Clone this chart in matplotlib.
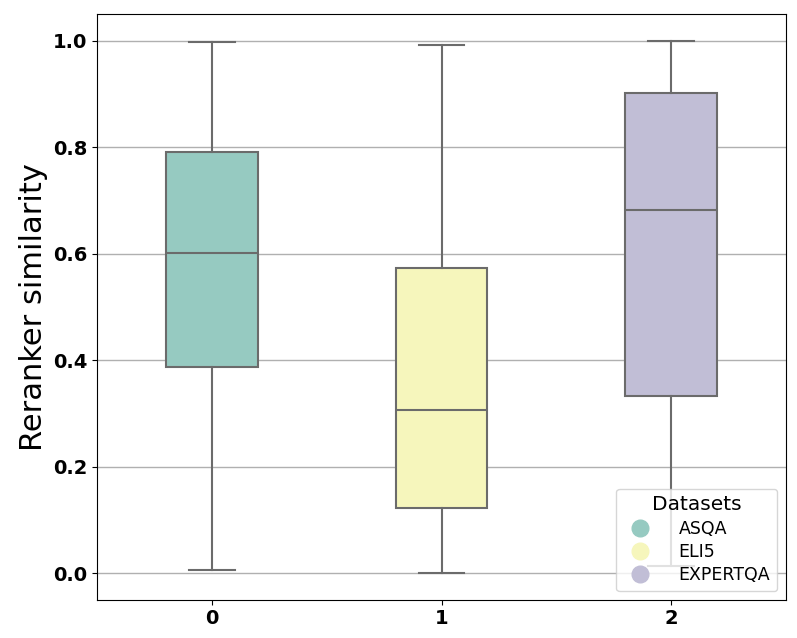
import matplotlib
matplotlib.use("Agg")
import matplotlib.pyplot as plt
from matplotlib.lines import Line2D
import colorsys
import matplotlib.colors as mcolors

categories = ["0", "1", "2"]
datasets = ["ASQA", "ELI5", "EXPERTQA"]
colors = ["#8dd3c7", "#ffffb3", "#bebada"]
whislo = [0.006, 0.0, 0.013]
q1 = [0.387, 0.122, 0.333]
med = [0.601, 0.306, 0.682]
q3 = [0.791, 0.573, 0.902]
whishi = [0.998, 0.992, 1.0]

fig, ax = plt.subplots(figsize=(7.97, 6.38), dpi=100)
fig.subplots_adjust(left=0.122, right=0.986, top=0.978, bottom=0.06)

stats = [dict(whislo=whislo[i], q1=q1[i], med=med[i], q3=q3[i], whishi=whishi[i], fliers=[], label=categories[i])
         for i in range(len(categories))]
lc = "#6b6b6b"
bp = ax.bxp(stats, positions=range(len(categories)), widths=0.4, patch_artist=True, showfliers=False,
            boxprops=dict(edgecolor=lc, linewidth=1.5),
            medianprops=dict(color=lc, linewidth=1.5),
            whiskerprops=dict(color=lc, linewidth=1.5),
            capprops=dict(color=lc, linewidth=1.5))
for patch, c in zip(bp["boxes"], colors):
    r, g, b = mcolors.to_rgb(c)
    h, l, s = colorsys.rgb_to_hls(r, g, b)
    patch.set_facecolor(colorsys.hls_to_rgb(h, l, s * 0.75))

ax.set_xlim(-0.5, 2.5)
ax.set_ylim(-0.05, 1.05)
ax.set_axisbelow(True)
ax.yaxis.grid(True, color="#b0b0b0", linewidth=1.0)
ax.set_ylabel("Reranker similarity", fontsize=22)
ax.set_xticks(range(len(categories)))
ax.set_xticklabels(categories)
ax.set_yticks([0.0, 0.2, 0.4, 0.6, 0.8, 1.0])
ax.set_yticklabels(["0.0", "0.2", "0.4", "0.6", "0.8", "1.0"])
for lab in ax.get_xticklabels() + ax.get_yticklabels():
    lab.set_fontweight("bold")
    lab.set_fontsize(14)

handles = [Line2D([], [], marker="o", linestyle="", markersize=12,
                  markerfacecolor=p.get_facecolor(), markeredgecolor=p.get_facecolor())
           for p in bp["boxes"]]
leg = ax.legend(handles, datasets, title="Datasets", loc="lower right", fontsize=12.5,
                title_fontsize=14.5, handletextpad=1.2, labelspacing=0.3, borderaxespad=0.5)

fig.savefig("out.png", dpi=100)
